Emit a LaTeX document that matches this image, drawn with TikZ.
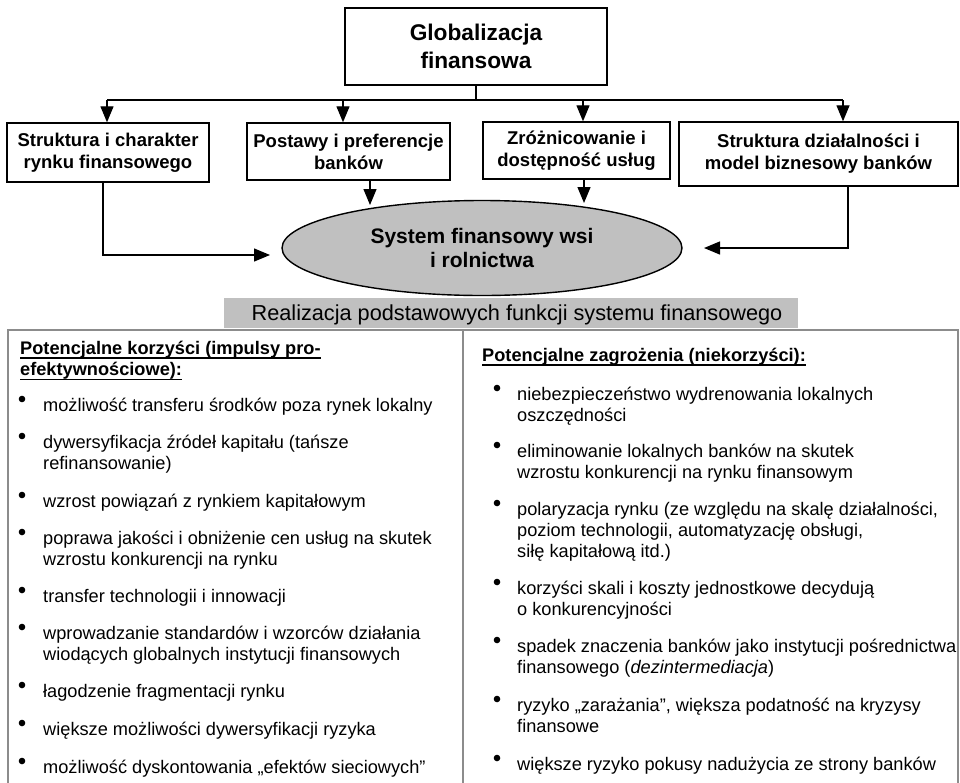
\documentclass[tikz,border=0pt]{standalone}
\usepackage{fontspec}
\setmainfont{Liberation Sans}
\usetikzlibrary{arrows.meta,shapes.geometric}
\definecolor{fillgray}{HTML}{C0C0C0}
\definecolor{framegray}{HTML}{8C8C8C}
\newcommand{\myuline}[1]{\setbox0\hbox{#1}\rlap{\rule[-4.6pt]{\wd0}{1.4pt}}\box0}
\begin{document}
\begin{tikzpicture}[x=1pt,y=-1pt,
  box/.style={draw,line width=1.4pt,align=center,inner sep=0,font=\fontsize{18.5}{22}\selectfont\bfseries},
  arr/.style={line width=1.3pt,-{Triangle[length=16pt,width=13pt]}},
  ln/.style={line width=1.3pt},
  panel/.style={draw=framegray,line width=2pt,anchor=north west,inner sep=0},
  txt/.style={anchor=north west,align=left,inner sep=0,font=\fontsize{18.2}{21}\selectfont},
  hd/.style={anchor=north west,align=left,inner sep=0,font=\fontsize{18.2}{21.5}\selectfont\bfseries},
]
\clip (0,0) rectangle (960,782);
\fill[white] (0,0) rectangle (960,782);

% top part
\node[box,minimum width=262pt,minimum height=77pt,font=\fontsize{22.7}{28}\selectfont\bfseries] (top) at (476,46.5) {Globalizacja\\finansowa};
\node[box,minimum width=202pt,minimum height=59pt] (b1) at (108,152.5) {Struktura i charakter\\rynku finansowego};
\node[box,minimum width=203pt,minimum height=57pt] (b2) at (348.5,151.5) {Postawy i preferencje\\banków};
\node[box,minimum width=187pt,minimum height=57pt] (b3) at (576.5,150.5) {Zróżnicowanie i\\dostępność usług};
\node[box,minimum width=279pt,minimum height=64pt] (b4) at (818.5,154) {Struktura działalności i\\model biznesowy banków};
\node[ellipse,draw,fill=fillgray,line width=1.4pt,minimum width=400pt,minimum height=95pt,inner sep=0,align=center,font=\fontsize{21}{24}\selectfont\bfseries] (sys) at (482,248) {System finansowy wsi\\i rolnictwa};

\coordinate (a1) at (107,100);
\coordinate (a2) at (343,100);
\coordinate (a3) at (583,100);
\coordinate (a4) at (843,100);
\draw[ln] (top.south) -- (top.south |- a1);
\draw[ln] (a1) -- (a4);
\draw[arr] (a1) -- (a1 |- b1.north);
\draw[arr] (a2) -- (a2 |- b2.north);
\draw[arr] (a3) -- (a3 |- b3.north);
\draw[arr] (a4) -- (a4 |- b4.north);

\coordinate (c2) at (370,205);
\coordinate (c3) at (584,203);
\draw[arr] (c2 |- b2.south) -- (c2);
\draw[arr] (c3 |- b3.south) -- (c3);
\coordinate (e1) at (103,255);
\coordinate (d1) at (270,255);
\draw[arr] (e1 |- b1.south) -- (e1) -- (d1);
\coordinate (e4) at (848,248);
\coordinate (d4) at (704,248);
\draw[arr] (e4 |- b4.south) -- (e4) -- (d4);

% banner and panels
\node[fill=fillgray,minimum width=574pt,minimum height=30pt,inner sep=0] (ban) at (511,313) {};
\node[inner sep=0,font=\fontsize{21.7}{24}\selectfont] (bantxt) at (517,315) {Realizacja podstawowych funkcji systemu finansowego};
\node[panel,minimum width=455pt,minimum height=470pt] (left) at (7,329) {};
\node[panel,minimum width=495pt,minimum height=470pt] (right) at (462,329) {};

% left list
\node[hd] (lh) at (20,339) {\strut\myuline{Potencjalne korzyści (impulsy pro-}\\\myuline{efektywnościowe):}};
\node[txt] (l1) at (43,396.3) {\strut możliwość transferu środków poza rynek lokalny};
\node[txt] (l2) at (43,433.3) {\strut dywersyfikacja źródeł kapitału (tańsze\\refinansowanie)};
\node[txt] (l3) at (43,492.3) {\strut wzrost powiązań z rynkiem kapitałowym};
\node[txt] (l4) at (43,529.3) {\strut poprawa jakości i obniżenie cen usług na skutek\\wzrostu konkurencji na rynku};
\node[txt] (l5) at (43,587.3) {\strut transfer technologii i innowacji};
\node[txt] (l6) at (43,624.3) {\strut wprowadzanie standardów i wzorców działania\\wiodących globalnych instytucji finansowych};
\node[txt] (l7) at (43,682.3) {\strut łagodzenie fragmentacji rynku};
\node[txt] (l8) at (43,720.3) {\strut większe możliwości dywersyfikacji ryzyka};
\node[txt] (l9) at (43,758.3) {\strut możliwość dyskontowania „efektów sieciowych”};
\foreach \yy in {399,436,495,532,590,627,685,723,761}
  \fill (22,\yy) circle (3.3pt);

% right list
\node[hd] (rh) at (482,346) {\strut\myuline{Potencjalne zagrożenia (niekorzyści):}};
\node[txt] (r1) at (517,385.3) {\strut niebezpieczeństwo wydrenowania lokalnych\\oszczędności};
\node[txt] (r2) at (517,442.3) {\strut eliminowanie lokalnych banków na skutek\\wzrostu konkurencji na rynku finansowym};
\node[txt] (r3) at (517,500.3) {\strut polaryzacja rynku (ze względu na skalę działalności,\\poziom technologii, automatyzację obsługi,\\siłę kapitałową itd.)};
\node[txt] (r4) at (517,579.3) {\strut korzyści skali i koszty jednostkowe decydują\\o konkurencyjności};
\node[txt] (r5) at (517,637.3) {\strut spadek znaczenia banków jako instytucji pośrednictwa\\finansowego (\textit{dezintermediacja})};
\node[txt] (r6) at (517,696.3) {\strut ryzyko „zarażania”, większa podatność na kryzysy\\finansowe};
\node[txt] (r7) at (517,755.3) {\strut większe ryzyko pokusy nadużycia ze strony banków};
\foreach \yy in {388,445,503,582,640,699,758}
  \fill (497,\yy) circle (3.3pt);
\end{tikzpicture}
\end{document}
